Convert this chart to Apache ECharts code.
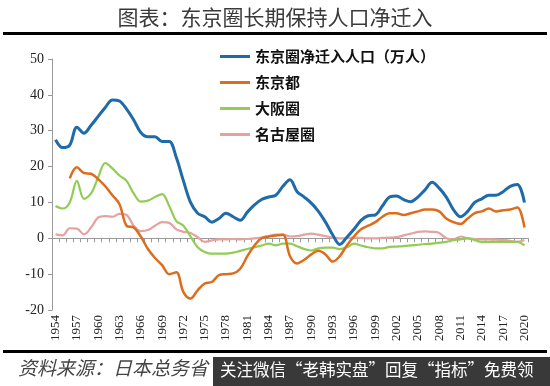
<!DOCTYPE html>
<html><head><meta charset="utf-8">
<script src="https://cdn.jsdelivr.net/npm/echarts@6/dist/echarts.min.js"></script>
<style>html,body{margin:0;padding:0;background:#fff}#c{width:550px;height:386px}</style>
</head><body><div id="c"></div>
<script>
const years = [];
for (let y = 1954; y <= 2020; y++) years.push(String(y));

const tokyoArea = [27.5,25.3,26,31,29.3,31.5,34,36.5,38.6,38.3,36,33,29.5,28.3,28.3,27,27,22.5,16,10,7,6,4.5,5.5,7,6,5,7.3,9.3,10.8,11.5,12,14.5,16.3,13,11.5,9.8,7.5,4.5,1,-1.7,0.3,2.5,5,6.3,6.5,9,11.5,11.8,10.8,10.2,11.5,13.5,15.6,14,11.5,8,6,7.5,10,11,12,12,13,14.5,15,10];
const tokyoTo = [null,null,16.7,19.8,18.2,18,16.5,14.5,12,9.5,3.5,3,0.5,-3,-5.5,-7.5,-10,-9.5,-15,-16.8,-14.5,-12.6,-12.2,-10.3,-10,-9.8,-8.5,-5,-2,0,0.5,0.8,1,-5,-7,-6,-4.5,-3.5,-4.5,-6.5,-5,-2,0.5,2.5,3.5,4.5,6,7,7,6.5,7,7.5,8,8,7.5,5.5,4.5,4,5.5,7,7.5,8.3,7.5,7.8,8,8.6,3];
const osaka = [9,8.3,10,16,11,12.5,17,21,19.5,17.5,16,12.5,10.2,10.5,11.5,12.3,9,4.8,3.5,0.5,-2.5,-3.8,-4.3,-4.3,-4.3,-4,-3.5,-3,-2.5,-2,-1.5,-2,-1.5,-1.5,-2.2,-3,-3.4,-2.8,-2.6,-2.6,-3,-2.5,-1.5,-2,-2.5,-2.8,-2.8,-2.4,-2.3,-2.2,-2,-1.8,-1.6,-1.5,-1.2,-1,-0.5,-0.3,0,-0.5,-1,-1,-1,-1,-1,-1,-2];
const nagoya = [1.1,0.8,2.8,2.7,1.1,3,5.8,6.2,6,6.8,6.5,3.5,2,2.3,3.5,4.5,4.3,2.5,1.8,1.5,0.3,-1,-0.6,-0.3,-0.3,-0.2,-0.3,-0.2,0,0.2,0.6,1,1,0.5,0.6,1,1.3,1,0.6,0.2,0,0,0.2,0.1,0,0,0.1,0.2,0.3,0.8,1.3,1.8,1.9,1.8,1.5,0,-0.3,0.5,0,-0.2,-0.3,-0.3,-0.4,-0.5,-0.7,-1,-0.5];

const seriesNames = ['东京圈净迁入人口（万人）','东京都','大阪圈','名古屋圈'];
const titleText = '图表：东京圈长期保持人口净迁入';
const sourceText = '资料来源：日本总务省';
const watermarkText = '关注微信“老韩实盘”回复“指标”免费领';

const chart = echarts.init(document.getElementById('c'), null, {renderer:'canvas'});
const colors = ['#1F6AA8','#DD6D1E','#92CC55','#E5A3A0'];
const widths = [3,2.5,2.2,2.2];
const dataSets = [tokyoArea, tokyoTo, osaka, nagoya];

chart.setOption({
  animation: false,
  backgroundColor: '#fff',
  grid: {left: 52, right: 22, top: 59, bottom: 76},
  legend: {
    orient: 'vertical', left: 215, top: 44,
    icon: 'rect', itemWidth: 30, itemHeight: 3, itemGap: 11,
    data: seriesNames,
    textStyle: {fontFamily: 'Noto Sans CJK SC', fontSize: 15, fontWeight: 'bold', color: '#111'}
  },
  xAxis: [{
    type: 'category', data: years, boundaryGap: true,
    axisLine: {onZero: true, lineStyle: {color: '#999', width: 1}},
    axisTick: {show: true, interval: 0, length: 4, lineStyle: {color: '#999'}},
    axisLabel: {show: false}, splitLine: {show: false}
  },{
    type: 'category', data: years, boundaryGap: true, position: 'bottom',
    axisLine: {show: false, onZero: false}, axisTick: {show: false},
    axisLabel: {interval: 2, rotate: 90, margin: 5, fontFamily: 'Liberation Serif', fontSize: 13, color: '#222'}
  }],
  yAxis: {
    type: 'value', min: -20, max: 50, interval: 10,
    axisLine: {show: true, lineStyle: {color: '#999'}},
    axisTick: {show: true, length: 4, lineStyle: {color: '#999'}},
    axisLabel: {fontFamily: 'Liberation Serif', fontSize: 14, color: '#222', margin: 8},
    splitLine: {show: false}
  },
  series: seriesNames.map((n, i) => ({
    name: n, type: 'line', xAxisIndex: 0, data: dataSets[i], smooth: 0.35,
    showSymbol: false, symbol: 'none', connectNulls: false,
    z: 10 - i,
    lineStyle: {color: colors[i], width: widths[i]},
    itemStyle: {color: colors[i]}
  })),
  graphic: [
    {type: 'text', left: 'center', top: 7, style: {text: titleText, fontFamily: 'Noto Sans CJK SC', fontSize: 21, fill: '#3a3a3a'}},
    {type: 'rect', shape: {x: 3, y: 32, width: 544, height: 3}, style: {fill: '#000'}},
    {type: 'rect', shape: {x: 3, y: 350, width: 544, height: 3}, style: {fill: '#000'}},
    {type: 'text', left: 18, top: 358, style: {text: sourceText, fontFamily: 'Noto Sans CJK SC', fontSize: 19, fontStyle: 'italic', fill: '#444'}},
    {type: 'rect', shape: {x: 213, y: 357, width: 337, height: 29}, style: {fill: 'rgba(40,40,40,0.92)'}},
    {type: 'text', left: 220, top: 361, style: {text: watermarkText, fontFamily: 'Noto Sans CJK SC', fontSize: 16.5, fill: '#fff'}}
  ]
});
</script></body></html>
